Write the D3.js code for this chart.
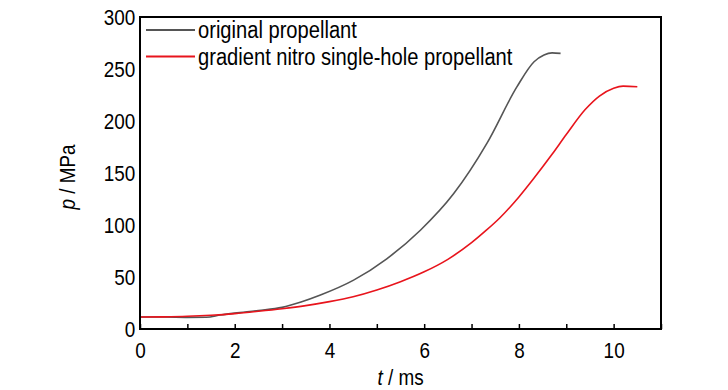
<!DOCTYPE html>
<html>
<head>
<meta charset="utf-8">
<script src="https://cdn.jsdelivr.net/npm/d3@7"></script>
<style>
    html, body { margin: 0; padding: 0; background: #fff; }
    svg { display: block; font-family: "Liberation Sans", Arial, sans-serif; }
</style>
</head>
<body>
<div id="chart"></div>
<script>
// time (ms) / pressure (MPa)
const originalT = [0, 0.5, 1.0, 1.4, 1.7, 2.0, 2.5, 3.0, 3.4, 3.81, 4.51, 5.21, 5.92, 6.62, 7.33, 7.96, 8.32, 8.53, 8.7, 8.88];
const originalP = [11.5, 11.5, 11.2, 11.3, 13.5, 15.3, 17.8, 20.8, 26, 32.7, 47, 67.5, 95, 130, 179, 233, 257, 263.5, 265.5, 265];

const gradientT = [0, 0.5, 1.0, 1.5, 2.0, 2.5, 3.0, 3.5, 4.0, 4.5, 5.0, 5.5, 6.0, 6.5, 7.0, 7.3, 7.6, 8.0, 8.3, 8.7, 9.0, 9.4, 9.7, 10.0, 10.2, 10.5];
const gradientP = [11.5, 11.7, 12.2, 13.2, 14.8, 17, 19.5, 22.5, 26.3, 31, 37.5, 45.5, 55, 67, 83, 94.5, 107, 127, 144, 168, 187, 211, 224, 231.5, 233.5, 233];

const seriesNames = ["original propellant", "gradient nitro single-hole propellant"];
const seriesColors = ["#555555", "#e8141c"];

const xTicks = [0, 2, 4, 6, 8, 10];
const xMinorTicks = [1, 3, 5, 7, 9, 11];
const yTicks = [0, 50, 100, 150, 200, 250, 300];

// the reference uses a narrow sans; squeeze Liberation Sans instead
const narrow = 0.86;

const margin = {top: 17, right: 67, bottom: 61, left: 140};
const width = 728 - margin.left - margin.right;
const height = 390 - margin.top - margin.bottom;

const svg = d3.select("#chart").append("svg")
    .attr("width", 728)
    .attr("height", 390);

const g = svg.append("g")
    .attr("transform", `translate(${margin.left}, ${margin.top})`);

const x = d3.scaleLinear().domain([0, 11]).range([0, width]);
const y = d3.scaleLinear().domain([0, 300]).range([height, 0]);

// bottom axis: inward ticks, labels drawn below
const xAxis = g.append("g")
    .attr("transform", `translate(0, ${height})`)
    .call(d3.axisBottom(x).tickValues(xTicks.concat(xMinorTicks)).tickSize(-5).tickPadding(13)
        .tickFormat(d => xTicks.includes(d) ? d : ""));
xAxis.select(".domain").remove();
xAxis.selectAll(".tick line").attr("stroke", "#000").attr("stroke-width", 1.5);
xAxis.selectAll(".tick text")
    .attr("font-size", "22px")
    .attr("fill", "#000")
    .attr("transform", `scale(${narrow}, 1)`);

const yAxis = g.append("g")
    .call(d3.axisLeft(y).tickValues(yTicks).tickSize(0).tickPadding(5.5));
yAxis.select(".domain").remove();
yAxis.selectAll(".tick text")
    .attr("font-size", "22px")
    .attr("fill", "#000")
    .attr("transform", `scale(${narrow}, 1)`);

const line = d3.line()
    .curve(d3.curveMonotoneX)
    .x(d => x(d[0]))
    .y(d => y(d[1]));

const series = [
    d3.zip(originalT, originalP),
    d3.zip(gradientT, gradientP)
];

g.selectAll(".curve")
    .data(series)
    .enter()
    .append("path")
        .attr("class", "curve")
        .attr("d", line)
        .attr("fill", "none")
        .attr("stroke", (d, i) => seriesColors[i])
        .attr("stroke-width", 1.6)
        .attr("stroke-linejoin", "round");

// frame
g.append("rect")
    .attr("width", width)
    .attr("height", height)
    .attr("fill", "none")
    .attr("stroke", "#000")
    .attr("stroke-width", 2);

// legend
const legend = g.append("g")
    .attr("transform", "translate(6, 13)");
seriesNames.forEach((name, i) => {
    const row = legend.append("g").attr("transform", `translate(0, ${i * 26.5})`);
    row.append("line")
        .attr("x1", 0).attr("x2", 49)
        .attr("stroke", seriesColors[i])
        .attr("stroke-width", 2);
    row.append("text")
        .attr("transform", `translate(52, 0) scale(0.875, 1)`)
        .attr("dy", "0.35em")
        .attr("font-size", "23px")
        .text(name);
});

// axis titles
svg.append("text")
    .attr("transform", `translate(${margin.left + width / 2}, 385) scale(${narrow}, 1)`)
    .attr("text-anchor", "middle")
    .attr("font-size", "22px")
    .html('<tspan font-style="italic">t</tspan> / ms');

svg.append("text")
    .attr("transform", `translate(75, 177) rotate(-90) scale(${narrow}, 1)`)
    .attr("text-anchor", "middle")
    .attr("font-size", "22px")
    .html('<tspan font-style="italic">p</tspan> / MPa');
</script>
</body>
</html>
